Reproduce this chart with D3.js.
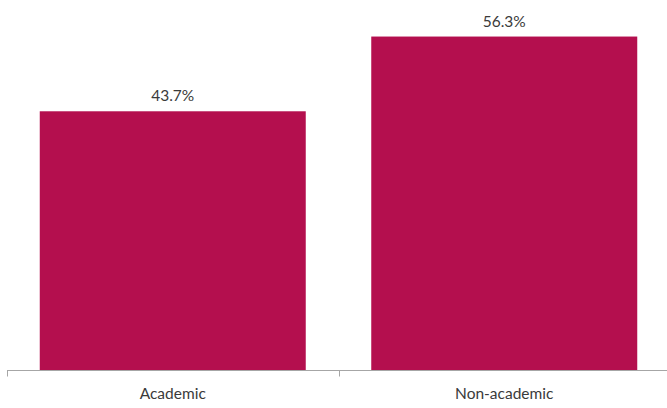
<!DOCTYPE html>
<html>
<head>
<meta charset="utf-8">
<script src="https://cdn.jsdelivr.net/npm/d3@7"></script>
<style>
  html, body { margin: 0; padding: 0; background: #fff; }
  svg { display: block; }
  text { font-family: Lato, "Open Sans", sans-serif; fill: #3a3a3a; }
</style>
</head>
<body>
<svg id="chart" width="667" height="408"></svg>
<script>
// Share of respondents by type
const categories = ["Academic", "Non-academic"];
const values = [43.7, 56.3];
const valueLabels = ["43.7%", "56.3%"];

const width = 667, height = 408;
const margin = { top: 14.6, bottom: 37.5, left: 7 };
const axisEnd = 670; // plot area runs slightly past the right edge

const svg = d3.select("#chart");

const x = d3.scaleBand()
  .domain(categories)
  .range([margin.left, axisEnd])
  .paddingInner(0.1976)
  .paddingOuter(0.0988);

const y = d3.scaleLinear()
  .domain([0, 60])
  .range([height - margin.bottom, margin.top]);

// Bars
svg.append("g")
  .selectAll("rect")
  .data(values)
  .join("rect")
  .attr("x", (d, i) => x(categories[i]))
  .attr("y", d => y(d))
  .attr("width", x.bandwidth())
  .attr("height", d => y(0) - y(d))
  .attr("fill", "#B40F4E");

// Value labels above bars
svg.append("g")
  .selectAll("text")
  .data(values)
  .join("text")
  .attr("x", (d, i) => x(categories[i]) + x.bandwidth() / 2)
  .attr("y", d => y(d) - 10)
  .attr("text-anchor", "middle")
  .attr("font-size", 15.5)
  .text((d, i) => valueLabels[i]);

// Category axis with ticks at band boundaries
const axisY = y(0);
const axis = svg.append("g").attr("transform", `translate(0,${axisY})`);
axis.append("line")
  .attr("x1", margin.left).attr("x2", axisEnd)
  .attr("stroke", "#A6A6A6").attr("stroke-width", 1);

const boundaries = [margin.left].concat(categories.map(c => x(c) + x.bandwidth() + x.step() * x.paddingInner() / 2));
axis.selectAll("line.tick")
  .data(boundaries)
  .join("line")
  .attr("class", "tick")
  .attr("x1", d => Math.round(d) + 0.5).attr("x2", d => Math.round(d) + 0.5)
  .attr("y1", 0).attr("y2", 6)
  .attr("stroke", "#A6A6A6").attr("stroke-width", 1);

axis.selectAll("text")
  .data(categories)
  .join("text")
  .attr("x", d => x(d) + x.bandwidth() / 2)
  .attr("y", 28)
  .attr("text-anchor", "middle")
  .attr("font-size", 15.5)
  .text(d => d);
</script>
</body>
</html>
